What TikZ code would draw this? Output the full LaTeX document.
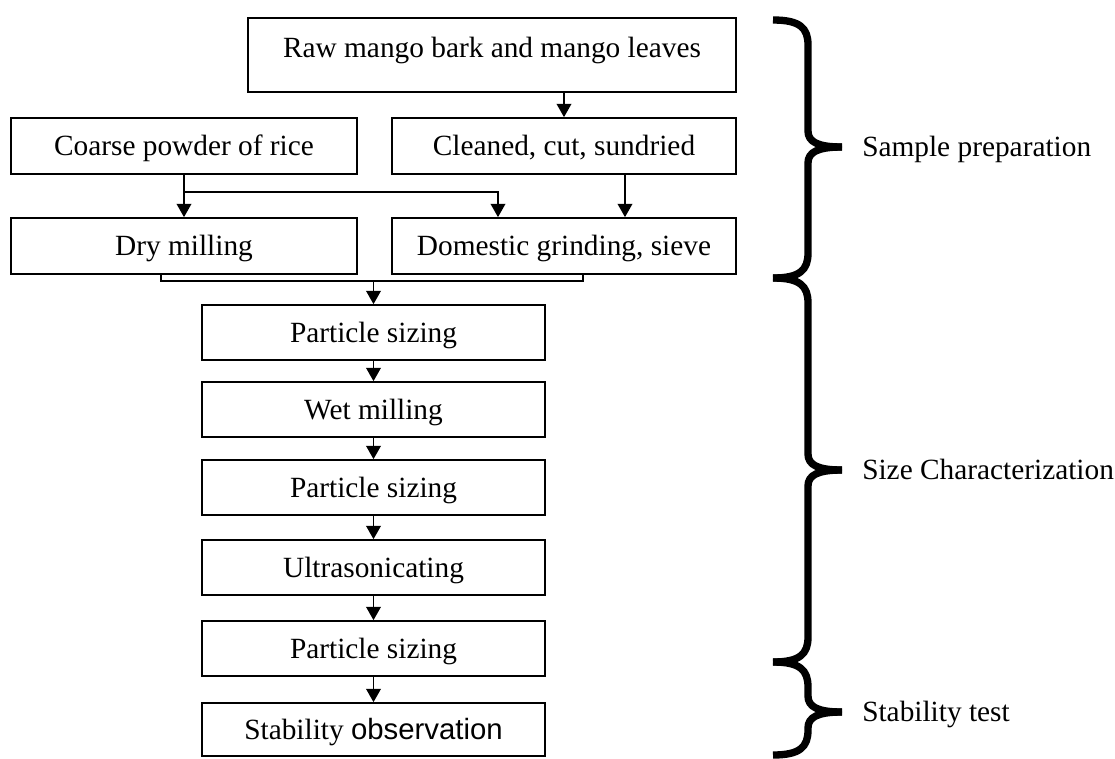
\documentclass[tikz,border=0pt]{standalone}
\usepackage{fontspec}
\setmainfont{Liberation Serif}
\newfontfamily\arialfam{Liberation Sans}
\usetikzlibrary{arrows.meta}
\begin{document}
\begin{tikzpicture}[x=0.75pt,y=-0.75pt,
  font=\fontsize{22}{26}\selectfont,
  box/.style={draw, line width=1.3pt, inner sep=0pt, text height=14.5pt, text depth=0pt},
  ln/.style={line width=1.3pt},
  arr/.style={line width=1.3pt, -{Triangle[width=11pt,length=10pt]}},
  bracestyle/.style={line width=5.5pt, line cap=butt},
  lbl/.style={inner sep=0pt, text height=14.5pt, text depth=0pt, anchor=west}]
\useasboundingbox (0,0) rectangle (1115,758);
% top part
\node[box, minimum width=488*0.75pt, minimum height=74*0.75pt, text depth=10.4pt] (raw) at (492,55) {Raw mango bark and mango leaves};
\node[box, minimum width=346*0.75pt, minimum height=56*0.75pt] (coarse) at (184,146) {Coarse powder of rice};
\node[box, minimum width=344*0.75pt, minimum height=56*0.75pt] (clean) at (564,146) {Cleaned, cut, sundried};
\node[box, minimum width=346*0.75pt, minimum height=56*0.75pt] (dry) at (184,246) {Dry milling};
\node[box, minimum width=344*0.75pt, minimum height=56*0.75pt] (dom) at (564,246) {Domestic grinding, sieve};
% central chain
\node[box, minimum width=343*0.75pt, minimum height=55*0.75pt] (p1) at (373.5,332.5) {Particle sizing};
\node[box, minimum width=343*0.75pt, minimum height=55*0.75pt] (wet) at (373.5,409.5) {Wet milling};
\node[box, minimum width=343*0.75pt, minimum height=55*0.75pt] (p2) at (373.5,487.5) {Particle sizing};
\node[box, minimum width=343*0.75pt, minimum height=55*0.75pt] (ultra) at (373.5,567.5) {Ultrasonicating};
\node[box, minimum width=343*0.75pt, minimum height=55*0.75pt] (p3) at (373.5,648.5) {Particle sizing};
\node[box, minimum width=343*0.75pt, minimum height=53*0.75pt] (stab) at (373.5,729.5) {Stability {\arialfam observation}};
% connectors
\coordinate (brx) at (498,192);
\coordinate (cx) at (625,0);
\coordinate (bl) at (161,281);
\coordinate (brr) at (583,281);
\draw[arr] (raw.south -| clean.north) -- (clean.north);
\draw[arr] (coarse.south) -- (dry.north);
\draw[arr] (coarse.south |- brx) -- (brx) -- (brx |- dom.north);
\draw[arr] (clean.south -| cx) -- (dom.north -| cx);
\draw[ln] (dry.south -| bl) -- (bl) -- (brr) -- (dom.south -| brr);
\draw[arr] (p1.north |- bl) -- (p1.north);
\draw[arr] (p1.south) -- (wet.north);
\draw[arr] (wet.south) -- (p2.north);
\draw[arr] (p2.south) -- (ultra.north);
\draw[arr] (ultra.south) -- (p3.north);
\draw[arr] (p3.south) -- (stab.north);
% braces
\newcommand\mybrace[3]{%
  \draw[bracestyle] (773,#1) .. controls (800,#1) and (808,#1+8) .. (808,#1+25)
     -- (808,#2-16) .. controls (808,#2-5) and (818,#2) .. (842,#2);
  \draw[bracestyle] (773,#3) .. controls (800,#3) and (808,#3-8) .. (808,#3-25)
     -- (808,#2+16) .. controls (808,#2+5) and (818,#2) .. (842,#2);}
\mybrace{20}{147}{278}
\mybrace{278}{470}{662}
\mybrace{662}{712}{755}
\node[lbl] (sp) at (862,147) {Sample preparation};
\node[lbl] (sc) at (862,470) {Size Characterization};
\node[lbl] (st) at (862,712) {Stability test};
\end{tikzpicture}
\end{document}
